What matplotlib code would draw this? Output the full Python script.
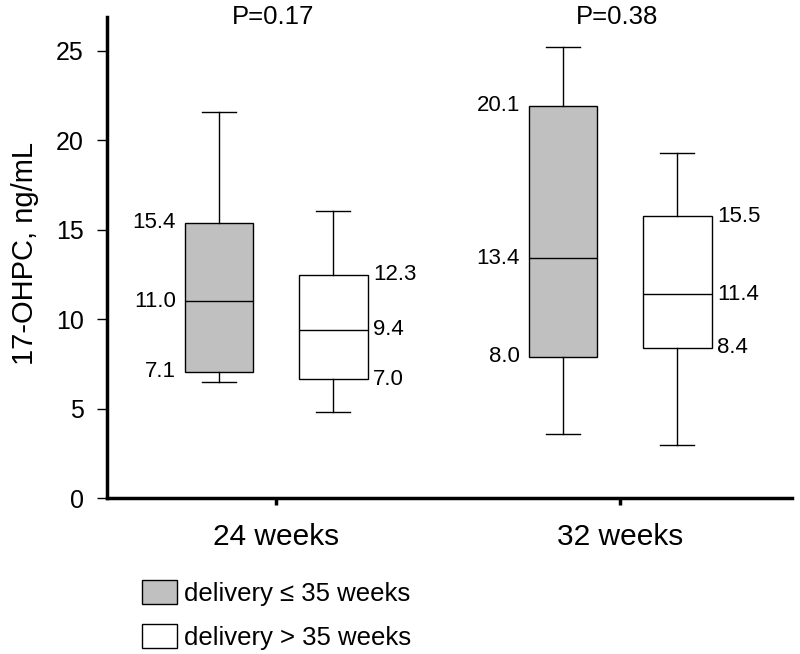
import matplotlib.pyplot as plt
from matplotlib.patches import Patch

plt.rcParams['font.family'] = ['Liberation Sans', 'DejaVu Sans']

groups = ['24 weeks', '32 weeks']
p_values = ['P=0.17', 'P=0.38']

# box stats as drawn: whislo, q1, med, q3, whishi
early = [[6.5, 7.05, 11.0, 15.4, 21.6],
         [3.6, 7.9, 13.4, 21.95, 25.2]]
late = [[4.8, 6.65, 9.4, 12.5, 16.05],
        [2.95, 8.4, 11.4, 15.75, 19.3]]

# printed labels (q3, median, q1)
early_labels = [['15.4', '11.0', '7.1'], ['20.1', '13.4', '8.0']]
late_labels = [['12.3', '9.4', '7.0'], ['15.5', '11.4', '8.4']]

legend_labels = ['delivery \u2264 35 weeks', 'delivery > 35 weeks']


def stats(v):
    return dict(whislo=v[0], q1=v[1], med=v[2], q3=v[3], whishi=v[4], fliers=[])


fig = plt.figure(figsize=(8, 6.54), dpi=100)
ax = fig.add_axes([0.134, 0.2385, 0.856, 0.7355])

pos = [1, 2]
off = 0.166
w = 0.2
line = dict(color='black', linewidth=1)

ax.bxp([stats(v) for v in early], positions=[p - off for p in pos],
       widths=w, capwidths=0.1, patch_artist=True, showfliers=False,
       boxprops=dict(facecolor='#c0c0c0', edgecolor='black', linewidth=1),
       medianprops=line, whiskerprops=line, capprops=line,
       manage_ticks=False)
ax.bxp([stats(v) for v in late], positions=[p + off for p in pos],
       widths=w, capwidths=0.1, patch_artist=True, showfliers=False,
       boxprops=dict(facecolor='white', edgecolor='black', linewidth=1),
       medianprops=line, whiskerprops=line, capprops=line,
       manage_ticks=False)

fs = 16
for i, p in enumerate(pos):
    v = early[i]
    for lab, y in zip(early_labels[i], [v[3], v[2], v[1]]):
        ax.text(p - off - w / 2 - 0.025, y, lab, ha='right', va='center', fontsize=fs)
    v = late[i]
    for lab, y in zip(late_labels[i], [v[3], v[2], v[1]]):
        ax.text(p + off + w / 2 + 0.016, y, lab, ha='left', va='center', fontsize=fs)
    ax.text(p - 0.01, 1.0, p_values[i], transform=ax.get_xaxis_transform(),
            ha='center', va='center', fontsize=18.5)

ax.set_xlim(0.509, 2.5)
ax.set_ylim(0, 26.9)
ax.set_yticks([0, 5, 10, 15, 20, 25])
ax.set_xticks(pos)
ax.set_xticklabels(groups, fontsize=21.5)
ax.tick_params(axis='y', labelsize=18, length=7, width=1, pad=10)
ax.tick_params(axis='x', length=5, width=2.5, pad=13)
ax.set_ylabel('17-OHPC, ng/mL', fontsize=21)
ax.yaxis.set_label_coords(-0.1, 0.508)

for s in ['top', 'right']:
    ax.spines[s].set_visible(False)
for s in ['left', 'bottom']:
    ax.spines[s].set_linewidth(2.5)

handles = [Patch(facecolor='#c0c0c0', edgecolor='black', linewidth=1),
           Patch(facecolor='white', edgecolor='black', linewidth=1)]
fig.legend(handles, legend_labels, loc='upper left', bbox_to_anchor=(0.177, 0.113),
           frameon=False, fontsize=18.5, handlelength=1.36, handleheight=1.03,
           handletextpad=0.3, labelspacing=0.72, borderaxespad=0, borderpad=0)

fig.savefig('out.png', dpi=100)
